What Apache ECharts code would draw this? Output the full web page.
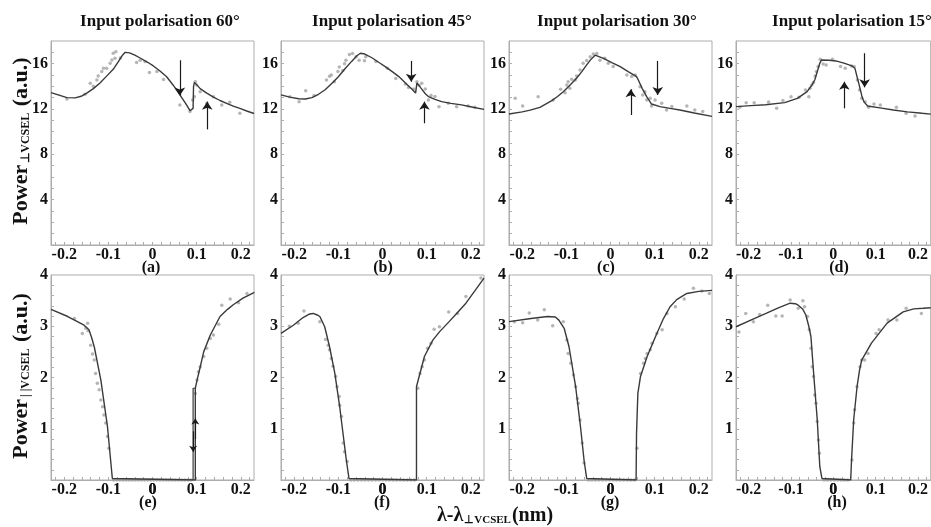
<!DOCTYPE html>
<html>
<head>
<meta charset="utf-8">
<script src="https://cdn.jsdelivr.net/npm/echarts@6/dist/echarts.min.js"></script>
<style>
  html, body { margin: 0; background: #fff; }
  #chart { width: 931px; height: 527px; }
</style>
</head>
<body>
<div id="chart"></div>
<script>
// ---- data ----
var xTicks = [-0.2, -0.1, 0, 0.1, 0.2];
var perpTicks = [4, 8, 12, 16];
var parTicks = [1, 2, 3, 4];
var titles = ['Input polarisation 60°', 'Input polarisation 45°', 'Input polarisation 30°', 'Input polarisation 15°'];
var letters = ['(a)', '(b)', '(c)', '(d)', '(e)', '(f)', '(g)', '(h)'];

// top row : Power perpendicular
var fitA = [[-0.23,13.45],[-0.21,13.2],[-0.194,13.0],[-0.175,12.98],[-0.16,13.15],[-0.149,13.4],[-0.134,13.8],[-0.119,14.3],[-0.104,14.9],[-0.089,15.5],[-0.077,16.2],[-0.068,16.75],[-0.062,17.0],[-0.052,16.95],[-0.04,16.75],[-0.028,16.5],[-0.01,16.1],[0.002,15.8],[0.017,15.35],[0.032,14.85],[0.047,14.1],[0.062,13.25],[0.075,12.5],[0.085,11.85],[0.089,11.8],[0.092,12.05],[0.093,14.0],[0.095,14.35],[0.1,14.15],[0.108,13.8],[0.123,13.4],[0.138,13.05],[0.153,12.75],[0.168,12.5],[0.183,12.25],[0.198,12.05],[0.215,11.8],[0.23,11.6]];
var ptsA = [[-0.194,12.88],[-0.153,13.3],[-0.141,14.27],[-0.134,14.0],[-0.126,14.56],[-0.123,14.92],[-0.115,15.3],[-0.111,15.6],[-0.104,15.6],[-0.096,16.04],[-0.092,16.33],[-0.085,16.47],[-0.089,16.92],[-0.083,17.06],[-0.073,16.5],[-0.036,16.1],[-0.028,16.3],[-0.017,16.2],[-0.007,15.21],[0.01,15.3],[0.025,14.6],[0.062,12.36],[0.085,11.77],[0.091,12.8],[0.095,13.09],[0.097,14.41],[0.1,14.12],[0.108,13.53],[0.123,12.5],[0.138,13.09],[0.157,12.36],[0.175,12.59],[0.198,11.62]];
var arrowsA = [[0.062,16.3,13.2],[0.124,10.2,12.65]];

var fitB = [[-0.23,13.25],[-0.21,13.05],[-0.19,12.9],[-0.175,12.88],[-0.16,13.0],[-0.145,13.3],[-0.13,13.7],[-0.115,14.25],[-0.1,14.85],[-0.085,15.55],[-0.07,16.2],[-0.058,16.7],[-0.05,16.92],[-0.04,16.85],[-0.023,16.5],[-0.008,16.1],[0.007,15.72],[0.022,15.3],[0.037,14.86],[0.052,14.3],[0.067,13.75],[0.075,13.4],[0.077,13.35],[0.078,14.3],[0.082,14.2],[0.089,13.75],[0.097,13.35],[0.104,13.1],[0.119,12.85],[0.134,12.65],[0.155,12.5],[0.179,12.36],[0.205,12.15],[0.23,11.97]];
var ptsB = [[-0.21,13.09],[-0.189,12.65],[-0.174,13.62],[-0.155,13.2],[-0.127,14.56],[-0.12,14.9],[-0.116,15.0],[-0.109,14.4],[-0.101,15.3],[-0.098,15.7],[-0.09,15.4],[-0.086,16.0],[-0.083,16.3],[-0.075,16.8],[-0.068,16.9],[-0.06,16.6],[-0.053,16.3],[-0.041,16.25],[-0.038,16.6],[-0.015,16.2],[0.011,15.6],[0.03,14.7],[0.052,14.2],[0.059,13.9],[0.071,13.76],[0.078,14.4],[0.083,14.1],[0.089,14.27],[0.097,13.76],[0.104,12.8],[0.11,13.2],[0.119,13.1],[0.128,12.2],[0.149,12.5],[0.168,12.2],[0.194,12.27],[0.209,12.15]];
var arrowsB = [[0.065,16.24,14.41],[0.095,10.74,12.65]];

var fitC = [[-0.23,11.56],[-0.2,11.75],[-0.182,11.9],[-0.16,12.15],[-0.133,12.74],[-0.12,13.1],[-0.107,13.53],[-0.092,14.1],[-0.077,14.71],[-0.065,15.3],[-0.054,15.89],[-0.044,16.4],[-0.035,16.75],[-0.016,16.47],[0.003,16.1],[0.022,15.74],[0.04,15.3],[0.059,14.86],[0.063,14.56],[0.072,13.8],[0.082,13.09],[0.093,12.44],[0.112,12.21],[0.135,12.05],[0.157,11.91],[0.19,11.65],[0.23,11.35]];
var ptsC = [[-0.216,12.94],[-0.199,12.27],[-0.164,13.09],[-0.13,12.8],[-0.113,13.74],[-0.103,13.44],[-0.099,14.12],[-0.096,14.41],[-0.092,13.82],[-0.088,14.62],[-0.08,14.56],[-0.077,14.92],[-0.069,15.44],[-0.062,16.03],[-0.054,16.27],[-0.046,16.6],[-0.039,16.86],[-0.031,16.9],[-0.024,16.3],[-0.013,16.47],[-0.005,16.03],[0.006,15.74],[0.037,15.0],[0.048,14.86],[0.056,15.0],[0.067,13.97],[0.073,13.24],[0.078,13.53],[0.082,12.8],[0.09,12.94],[0.093,12.27],[0.101,12.8],[0.116,12.5],[0.127,11.91],[0.139,12.21],[0.173,12.27],[0.191,11.91],[0.209,11.77]];
var arrowsC = [[0.046,11.47,13.74],[0.107,16.24,13.24]];

var fitD = [[-0.23,12.21],[-0.195,12.3],[-0.16,12.38],[-0.115,12.56],[-0.085,12.94],[-0.062,13.53],[-0.05,14.15],[-0.044,14.56],[-0.038,15.3],[-0.032,16.03],[-0.028,16.33],[-0.01,16.3],[0.006,16.24],[0.025,16.05],[0.044,15.8],[0.051,15.59],[0.057,14.7],[0.062,13.97],[0.067,13.2],[0.072,12.65],[0.081,12.27],[0.11,12.1],[0.142,11.91],[0.175,11.75],[0.21,11.62],[0.23,11.55]];
var ptsD = [[-0.221,12.15],[-0.206,12.56],[-0.187,12.56],[-0.153,12.62],[-0.134,12.06],[-0.119,12.74],[-0.1,13.09],[-0.081,13.03],[-0.066,13.68],[-0.058,13.09],[-0.055,13.82],[-0.051,14.12],[-0.047,14.33],[-0.043,14.92],[-0.04,15.3],[-0.036,15.74],[-0.031,16.39],[-0.024,15.97],[-0.017,15.88],[-0.002,16.39],[0.017,15.74],[0.028,15.59],[0.043,15.8],[0.049,15.74],[0.057,14.56],[0.062,13.68],[0.067,12.94],[0.075,12.65],[0.083,12.15],[0.096,12.44],[0.111,12.36],[0.149,12.15],[0.172,11.62],[0.193,11.38]];
var arrowsD = [[0.026,12.06,14.41],[0.074,16.92,13.91]];

// bottom row : Power parallel
var fitE = [[-0.23,3.33],[-0.192,3.19],[-0.155,3.02],[-0.144,2.93],[-0.138,2.78],[-0.132,2.6],[-0.117,1.95],[-0.102,1.04],[-0.091,0.03],[-0.089,0],[0.097,0],[0.097,1.79],[0.101,1.95],[0.108,2.2],[0.116,2.5],[0.131,2.83],[0.153,3.19],[0.17,3.33],[0.183,3.42],[0.205,3.55],[0.231,3.66]];
var ptsE = [[-0.177,3.15],[-0.159,2.86],[-0.151,2.96],[-0.147,3.06],[-0.146,2.91],[-0.14,2.63],[-0.136,2.46],[-0.132,2.34],[-0.129,2.08],[-0.125,1.89],[-0.121,1.76],[-0.117,1.56],[-0.113,1.43],[-0.11,1.27],[-0.106,1.11],[-0.102,0.85],[-0.099,0.62],[0.097,1.69],[0.101,1.95],[0.104,2.11],[0.108,2.21],[0.116,2.41],[0.123,2.57],[0.131,2.76],[0.138,2.83],[0.15,3.04],[0.157,3.41],[0.176,3.53],[0.195,3.46],[0.214,3.64]];
var zerosE = [-0.088,-0.081,-0.074,-0.067,-0.06,-0.053,-0.046,-0.039,-0.032,-0.025,-0.018,-0.011,-0.004,0.003,0.01,0.017,0.024,0.031,0.038,0.045,0.052,0.059,0.066,0.073,0.08,0.087];
var loopE = [[0.092,0],[0.092,1.79],[0.097,1.79]];
var arrowsE = [[0.092,0.95,0.55],[0.097,0.8,1.2]];

var fitF = [[-0.23,2.86],[-0.202,3.02],[-0.18,3.17],[-0.165,3.24],[-0.157,3.25],[-0.148,3.22],[-0.142,3.19],[-0.131,2.99],[-0.12,2.6],[-0.108,2.08],[-0.097,1.43],[-0.082,0.39],[-0.076,0.03],[-0.075,0],[0.077,0],[0.077,1.82],[0.083,2.02],[0.095,2.41],[0.114,2.73],[0.13,2.9],[0.151,3.09],[0.17,3.27],[0.189,3.45],[0.21,3.7],[0.23,3.94]];
var ptsF = [[-0.211,3.0],[-0.191,3.06],[-0.178,3.3],[-0.142,3.09],[-0.129,2.74],[-0.123,2.63],[-0.12,2.54],[-0.116,2.37],[-0.112,2.22],[-0.106,2.02],[-0.103,1.82],[-0.098,1.63],[-0.097,1.46],[-0.093,1.24],[-0.089,0.72],[-0.086,0.55],[-0.08,0.36],[0.08,1.79],[0.085,2.08],[0.09,2.21],[0.095,2.34],[0.102,2.57],[0.11,2.67],[0.117,2.94],[0.129,2.99],[0.15,3.28],[0.17,3.25],[0.189,3.58],[0.223,3.94]];
var zerosF = [-0.072,-0.064,-0.056,-0.048,-0.04,-0.032,-0.024,-0.016,-0.008,0,0.008,0.016,0.024,0.032,0.04,0.048,0.056,0.064,0.072];

var fitG = [[-0.23,3.09],[-0.18,3.15],[-0.143,3.19],[-0.125,3.18],[-0.117,3.12],[-0.105,2.96],[-0.094,2.6],[-0.079,1.82],[-0.068,1.04],[-0.06,0.39],[-0.054,0.03],[-0.053,0],[0.058,0],[0.059,0.91],[0.062,1.69],[0.068,2.02],[0.083,2.41],[0.105,2.86],[0.12,3.15],[0.135,3.38],[0.15,3.52],[0.173,3.64],[0.2,3.68],[0.23,3.7]];
var ptsG = [[-0.218,3.09],[-0.199,3.07],[-0.184,3.26],[-0.165,3.12],[-0.15,3.32],[-0.131,3.01],[-0.107,3.09],[-0.099,2.73],[-0.096,2.47],[-0.09,2.28],[-0.084,2.05],[-0.079,1.82],[-0.075,1.59],[-0.073,1.5],[-0.069,1.17],[-0.064,0.72],[-0.06,0.33],[0.06,0.62],[0.068,2.08],[0.075,2.28],[0.079,2.37],[0.083,2.47],[0.09,2.54],[0.094,2.67],[0.105,2.86],[0.117,2.93],[0.128,3.25],[0.147,3.38],[0.167,3.53],[0.188,3.74],[0.207,3.69],[0.224,3.64]];
var zerosG = [-0.05,-0.042,-0.034,-0.026,-0.018,-0.01,-0.002,0.006,0.014,0.022,0.03,0.038,0.046,0.054];

var fitH = [[-0.23,2.99],[-0.195,3.12],[-0.159,3.25],[-0.13,3.36],[-0.102,3.45],[-0.09,3.44],[-0.083,3.41],[-0.072,3.33],[-0.065,3.22],[-0.058,3.0],[-0.053,2.8],[-0.046,2.02],[-0.038,1.17],[-0.032,0.26],[-0.027,0.03],[-0.025,0],[0.041,0],[0.043,0.39],[0.048,1.17],[0.056,1.82],[0.062,2.15],[0.067,2.34],[0.09,2.67],[0.127,3.06],[0.165,3.28],[0.19,3.34],[0.212,3.35],[0.23,3.36]];
var ptsH = [[-0.223,2.89],[-0.207,3.25],[-0.189,3.09],[-0.174,3.23],[-0.155,3.41],[-0.136,3.2],[-0.121,3.2],[-0.102,3.51],[-0.083,3.35],[-0.072,3.5],[-0.068,3.38],[-0.061,3.19],[-0.057,2.93],[-0.053,2.57],[-0.05,2.21],[-0.047,2.02],[-0.044,1.66],[-0.041,1.5],[-0.038,1.14],[-0.035,0.78],[-0.033,0.52],[0.044,0.39],[0.048,1.11],[0.05,1.37],[0.056,1.82],[0.063,2.21],[0.067,2.34],[0.074,2.34],[0.082,2.47],[0.101,2.86],[0.108,2.93],[0.129,3.12],[0.15,3.12],[0.172,3.35],[0.208,3.25]];
var zerosH = [-0.022,-0.014,-0.006,0.002,0.01,0.018,0.026,0.034];

// ---- layout ----
var FONT = '"Liberation Serif", "Times New Roman", serif';
var gridLefts = [51, 281, 509, 736];
var panelW = 203;
var rowTops = [41, 275];
var rowHeights = [204, 205];

var panels = [
  { fit: fitA, pts: ptsA, arrows: arrowsA },
  { fit: fitB, pts: ptsB, arrows: arrowsB },
  { fit: fitC, pts: ptsC, arrows: arrowsC },
  { fit: fitD, pts: ptsD, arrows: arrowsD },
  { fit: fitE, pts: ptsE, zeros: zerosE, loop: loopE, arrows: arrowsE, small: true },
  { fit: fitF, pts: ptsF, zeros: zerosF },
  { fit: fitG, pts: ptsG, zeros: zerosG },
  { fit: fitH, pts: ptsH, zeros: zerosH }
];

// minor tick positions (axis decoration only)
var xMinor = [];
for (var t = -22; t <= 22; t += 2) xMinor.push(t / 100);
var yMinorTop = [];
for (var u = 1; u <= 17; u++) yMinorTop.push(u);
var yMinorBot = [];
for (var w = 1; w <= 19; w++) yMinorBot.push(w / 5);

var AXIS_COLOR = '#adadad';
var LABEL_FONT = 'bold 16px ' + FONT;
var grids = [], xAxes = [], yAxes = [], series = [];

panels.forEach(function (p, i) {
  var row = i < 4 ? 0 : 1;
  var col = i % 4;
  grids.push({
    left: gridLefts[col], top: rowTops[row], width: panelW, height: rowHeights[row],
    show: true, borderColor: AXIS_COLOR, borderWidth: 1, backgroundColor: 'transparent'
  });
  xAxes.push({
    type: 'value', gridIndex: i, min: -0.23, max: 0.23, position: 'bottom',
    axisLine: { show: true, onZero: false, lineStyle: { color: AXIS_COLOR } },
    axisTick: { show: true, inside: true, length: 3, customValues: xMinor, lineStyle: { color: AXIS_COLOR } },
    axisLabel: {
      customValues: xTicks, margin: 2, color: '#111', fontFamily: FONT, fontWeight: 'bold', fontSize: 16,
      hideOverlap: false,
      formatter: function (v) { return String(v); }
    },
    splitLine: { show: false }
  });
  yAxes.push({
    type: 'value', gridIndex: i, min: 0, max: row === 0 ? 18 : 4, position: 'left',
    axisLine: { show: true, onZero: false, lineStyle: { color: AXIS_COLOR } },
    axisTick: { show: true, inside: true, length: 3, customValues: row === 0 ? yMinorTop : yMinorBot, lineStyle: { color: AXIS_COLOR } },
    axisLabel: {
      customValues: row === 0 ? perpTicks : parTicks, margin: 3, color: '#111',
      fontFamily: FONT, fontWeight: 'bold', fontSize: 16, hideOverlap: false
    },
    splitLine: { show: false }
  });

  var pts = p.pts.slice();
  if (p.zeros) p.zeros.forEach(function (x) { pts.push([x, 0]); });
  series.push({
    type: 'scatter', xAxisIndex: i, yAxisIndex: i, data: pts,
    symbol: 'circle', symbolSize: 3.5, itemStyle: { color: '#a2a2a2' }, silent: true, z: 2
  });

  var arrowData = (p.arrows || []).map(function (a) {
    return [{ coord: [a[0], a[1]] }, { coord: [a[0], a[2]] }];
  });
  series.push({
    type: 'line', xAxisIndex: i, yAxisIndex: i, data: p.fit,
    showSymbol: false, silent: true, z: 3,
    lineStyle: { color: '#3a3a3a', width: 1.4 },
    markLine: {
      silent: true, animation: false,
      symbol: ['none', 'arrow'], symbolSize: p.small ? 6 : 8,
      label: { show: false },
      lineStyle: { color: '#1a1a1a', width: 1.2, type: 'solid' },
      data: arrowData
    }
  });
  if (p.loop) {
    series.push({
      type: 'line', xAxisIndex: i, yAxisIndex: i, data: p.loop,
      showSymbol: false, silent: true, z: 3,
      lineStyle: { color: '#3a3a3a', width: 1.2 }
    });
  }
});

// ---- text ----
var graphics = [];
var titleX = [160, 392, 617, 852];
titles.forEach(function (t, k) {
  graphics.push({ type: 'text', x: titleX[k], y: 22,
    style: { text: t, font: 'bold 17px ' + FONT, fill: '#111', textAlign: 'center', textVerticalAlign: 'middle' } });
});
var letterX = [151, 383, 606, 839, 148, 382, 610, 837];
letters.forEach(function (l, k) {
  graphics.push({ type: 'text', x: letterX[k], y: k < 4 ? 268 : 503, z: 10,
    style: { text: l, font: LABEL_FONT, fill: '#111', textAlign: 'center', textVerticalAlign: 'middle' } });
});
var rich = {
  m: { fontFamily: FONT, fontWeight: 'bold', fontSize: 22, fill: '#111', color: '#111' },
  s: { fontFamily: FONT, fontWeight: 'bold', fontSize: 12, fill: '#111', color: '#111', padding: [10, 1, 0, 2] },
  n: { fontFamily: FONT, fontWeight: 'bold', fontSize: 20, fill: '#111', color: '#111' },
  t: { fontFamily: FONT, fontWeight: 'bold', fontSize: 11, fill: '#111', color: '#111', padding: [9, 1, 0, 1] }
};
graphics.push({ type: 'text', x: 21, y: 141, rotation: Math.PI / 2,
  style: { text: '{m|Power}{s|⊥VCSEL}{m| (a.u.)}', rich: rich, textAlign: 'center', textVerticalAlign: 'middle' } });
graphics.push({ type: 'text', x: 21, y: 376, rotation: Math.PI / 2,
  style: { text: '{m|Power}{s|| |VCSEL}{m| (a.u.)}', rich: rich, textAlign: 'center', textVerticalAlign: 'middle' } });
graphics.push({ type: 'text', x: 495, y: 516,
  style: { text: '{n|λ-λ}{t|⊥VCSEL}{n|(nm)}', rich: rich, textAlign: 'center', textVerticalAlign: 'middle' } });

var myChart = echarts.init(document.getElementById('chart'));
myChart.setOption({
  animation: false,
  backgroundColor: '#fff',
  grid: grids,
  xAxis: xAxes,
  yAxis: yAxes,
  series: series,
  graphic: graphics
});

// the "0" tick label of the bottom row gets dropped by the axis layout,
// so place it at the axis' own pixel for value 0
for (var b = 4; b < 8; b++) {
  var px = myChart.convertToPixel({ xAxisIndex: b }, 0);
  var py = myChart.convertToPixel({ yAxisIndex: b }, 0);
  graphics.push({ type: 'text', x: px, y: py + 10, z: 20,
    style: { text: '0', font: LABEL_FONT, fill: '#111', textAlign: 'center', textVerticalAlign: 'middle' } });
}
myChart.setOption({ graphic: graphics });
</script>
</body>
</html>
